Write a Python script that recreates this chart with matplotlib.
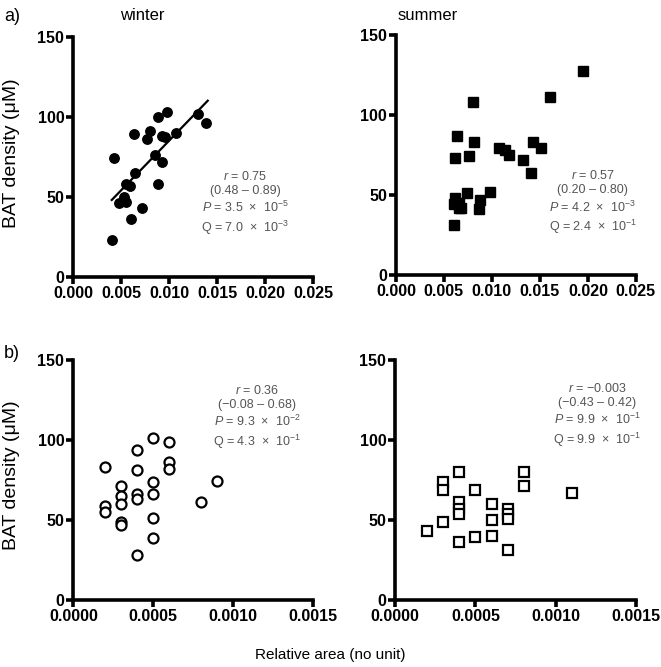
import numpy as np
import matplotlib
matplotlib.use("Agg")
import matplotlib.pyplot as plt

plt.rcParams['font.family'] = ['Liberation Sans', 'DejaVu Sans']
plt.rcParams['mathtext.fontset'] = 'custom'
plt.rcParams['mathtext.rm'] = 'Liberation Sans'
plt.rcParams['mathtext.it'] = 'Liberation Sans:italic'

# a) winter - filled circles
winter_x = [0.0042, 0.0040, 0.0063, 0.0080, 0.0077, 0.0088, 0.0098, 0.0092, 0.0095,
            0.0107, 0.0130, 0.0138, 0.0085, 0.0092, 0.0064, 0.0055, 0.0059, 0.0053,
            0.0048, 0.0055, 0.0072, 0.0060, 0.0088]
winter_y = [74, 23, 89, 91, 86, 100, 103, 88, 87.5,
            90, 102, 96, 76, 72, 65, 58, 57, 50,
            46, 47, 43, 36, 58]
winter_fit_x = [0.0040, 0.0140]
winter_fit_y = [48, 110]

# a) summer - filled squares
summer_x = [0.0060, 0.0061, 0.0062, 0.0066, 0.0068, 0.0066, 0.0074, 0.0062, 0.0064,
            0.0076, 0.0080, 0.0081, 0.0087, 0.0088, 0.0098, 0.0107, 0.0114, 0.0118,
            0.0132, 0.0141, 0.0143, 0.0151, 0.0161, 0.0195]
summer_y = [31, 44, 48, 45, 42, 41.5, 51, 73, 86.5,
            74, 108, 83, 41, 47, 52, 79, 78, 75,
            71.5, 63.5, 83, 79, 111, 127.5]

# b) winter - open circles
bw_x = [0.0002, 0.0002, 0.0002, 0.0003, 0.0003, 0.0003, 0.0003, 0.0003,
        0.0004, 0.0004, 0.0004, 0.0004, 0.0004, 0.0005, 0.0005, 0.0005,
        0.0005, 0.0005, 0.0006, 0.0006, 0.0006, 0.0008, 0.0009]
bw_y = [83, 59, 55, 71, 65, 60, 49, 47,
        94, 81, 66, 63, 28, 101, 73.5, 66,
        51, 38.5, 99, 86.5, 82, 61, 74.5]

# b) summer - open squares
bs_x = [0.0002, 0.0003, 0.0003, 0.0003, 0.0004, 0.0004, 0.0004, 0.0004, 0.0004,
        0.0005, 0.0005, 0.0006, 0.0006, 0.0006, 0.0007, 0.0007, 0.0007, 0.0007,
        0.0008, 0.0008, 0.0011]
bs_y = [43, 48.5, 74, 69, 80, 61.5, 57, 54, 36.5,
        69, 39.5, 60, 50, 40, 57, 54, 50.5, 31,
        80, 71, 67]

stats = [
    "$r$ = 0.75\n(0.48 \u2013 0.89)\n$P$ = 3.5  \u00d7  10$^{-5}$\nQ = 7.0  \u00d7  10$^{-3}$",
    "$r$ = 0.57\n(0.20 \u2013 0.80)\n$P$ = 4.2  \u00d7  10$^{-3}$\nQ = 2.4  \u00d7  10$^{-1}$",
    "$r$ = 0.36\n(\u22120.08 \u2013 0.68)\n$P$ = 9.3  \u00d7  10$^{-2}$\nQ = 4.3  \u00d7  10$^{-1}$",
    "$r$ = \u22120.003\n(\u22120.43 \u2013 0.42)\n$P$ = 9.9  \u00d7  10$^{-1}$\nQ = 9.9  \u00d7  10$^{-1}$",
]
stat_pos = [(0.717, 0.445), (0.82, 0.44), (0.767, 0.90), (0.84, 0.91)]

fig = plt.figure(figsize=(6.61, 6.67), dpi=100)
ax1 = fig.add_axes([0.111, 0.585, 0.363, 0.36])
ax2 = fig.add_axes([0.599, 0.588, 0.363, 0.36])
ax3 = fig.add_axes([0.111, 0.1004, 0.363, 0.36])
ax4 = fig.add_axes([0.598, 0.1004, 0.364, 0.36])

ax1.plot(winter_x, winter_y, 'o', color='black', markersize=6.8, zorder=3)
ax1.plot(winter_fit_x, winter_fit_y, '-', color='black', lw=1.6)
ax2.plot(summer_x, summer_y, 's', color='black', markersize=6.6, zorder=3)
ax3.plot(bw_x, bw_y, 'o', mfc='white', mec='black', mew=1.6, markersize=7.2)
ax4.plot(bs_x, bs_y, 's', mfc='white', mec='black', mew=1.6, markersize=7.0)

for ax in (ax1, ax2):
    ax.set_xlim(0, 0.025)
    ax.set_xticks([0.0, 0.005, 0.010, 0.015, 0.020, 0.025])
    ax.set_xticklabels(['0.000', '0.005', '0.010', '0.015', '0.020', '0.025'])
for ax in (ax3, ax4):
    ax.set_xlim(0, 0.0015)
    ax.set_xticks([0.0, 0.0005, 0.0010, 0.0015])
    ax.set_xticklabels(['0.0000', '0.0005', '0.0010', '0.0015'])

for ax, txt, pos in zip((ax1, ax2, ax3, ax4), stats, stat_pos):
    ax.set_ylim(0, 150)
    ax.set_yticks([0, 50, 100, 150])
    for s in ('top', 'right'):
        ax.spines[s].set_visible(False)
    for s in ('left', 'bottom'):
        ax.spines[s].set_linewidth(2.6)
    ax.tick_params(width=2.6, length=5, labelsize=11.5, pad=1.5)
    for lab in ax.get_xticklabels() + ax.get_yticklabels():
        lab.set_fontweight('bold')
    ax.text(pos[0], pos[1], txt, transform=ax.transAxes, ha='center', va='top',
            fontsize=9, color='#555555', linespacing=1.25, multialignment='center')

fig.text(0.215, 0.977, 'winter', ha='center', va='center', fontsize=12)
fig.text(0.647, 0.977, 'summer', ha='center', va='center', fontsize=12)
fig.text(0.006, 0.975, 'a)', ha='left', va='center', fontsize=13)
fig.text(0.006, 0.47, 'b)', ha='left', va='center', fontsize=13)
fig.text(0.017, 0.771, 'BAT density (\u03bcM)', rotation=90, ha='center', va='center', fontsize=14)
fig.text(0.017, 0.288, 'BAT density (\u03bcM)', rotation=90, ha='center', va='center', fontsize=14)
fig.text(0.5, 0.018, 'Relative area (no unit)', ha='center', va='center', fontsize=11)

fig.savefig('out.png', dpi=100)
